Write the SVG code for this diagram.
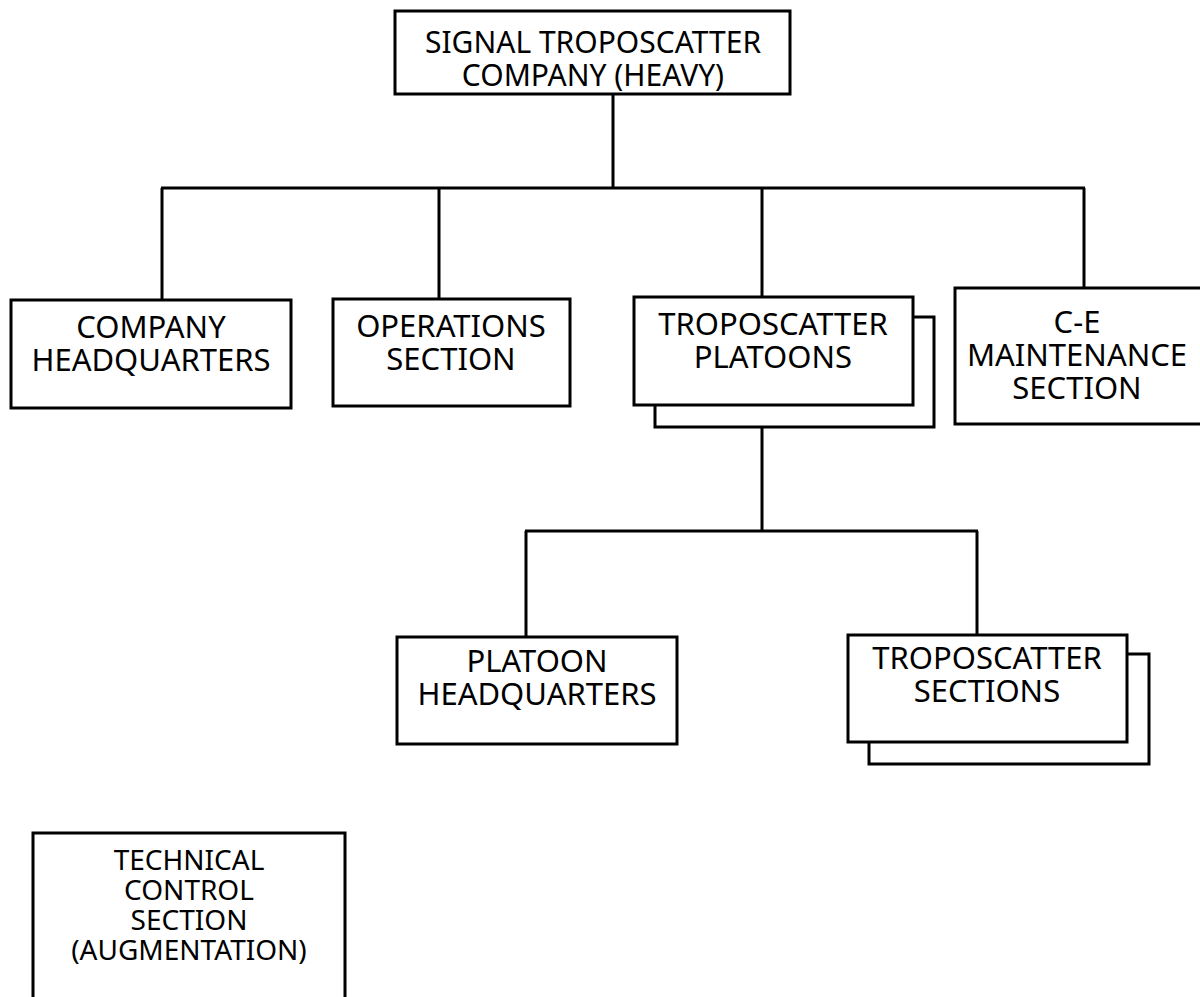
<svg xmlns="http://www.w3.org/2000/svg" width="1200" height="997" viewBox="0 0 1200 997">
<style>
.box{fill:#fff;stroke:#000;stroke-width:3}
.sh{fill:none;stroke:#000;stroke-width:3}
.ln{fill:none;stroke:#000;stroke-width:3}
text{font-family:"Noto Sans","Open Sans",sans-serif;font-size:31px;fill:#000;text-anchor:middle}
.sm{font-size:28px}
.tp{font-size:30px}
</style>
<rect width="1200" height="997" fill="#fff"/>
<g id="connectors">
<line class="ln" x1="613" y1="94" x2="613" y2="188"/>
<line class="ln" x1="161" y1="188" x2="1085" y2="188"/>
<line class="ln" x1="162" y1="188" x2="162" y2="300"/>
<line class="ln" x1="439" y1="188" x2="439" y2="299"/>
<line class="ln" x1="762" y1="188" x2="762" y2="297"/>
<line class="ln" x1="1084" y1="188" x2="1084" y2="288"/>
<line class="ln" x1="762" y1="427" x2="762" y2="531"/>
<line class="ln" x1="525" y1="531" x2="978" y2="531"/>
<line class="ln" x1="526" y1="531" x2="526" y2="637"/>
<line class="ln" x1="977" y1="531" x2="977" y2="635"/>
</g>
<g id="top">
<rect class="box" x="395" y="11" width="395" height="83"/>
<text class="tp" x="593" y="53">SIGNAL TROPOSCATTER</text>
<text class="tp" x="593" y="86">COMPANY (HEAVY)</text>
</g>
<g id="company-hq">
<rect class="box" x="11" y="300" width="280" height="108"/>
<text x="151" y="338">COMPANY</text>
<text x="151" y="371">HEADQUARTERS</text>
</g>
<g id="operations">
<rect class="box" x="333" y="299" width="237" height="107"/>
<text x="451" y="337">OPERATIONS</text>
<text x="451" y="370">SECTION</text>
</g>
<g id="platoons">
<path class="sh" d="M913 317 H934 V427 H655 V405"/>
<rect class="box" x="634" y="297" width="279" height="108"/>
<text x="773" y="335">TROPOSCATTER</text>
<text x="773" y="368">PLATOONS</text>
</g>
<g id="ce-maintenance">
<rect class="box" x="955" y="288" width="262" height="136"/>
<text x="1077" y="333">C-E</text>
<text x="1077" y="366">MAINTENANCE</text>
<text x="1077" y="399">SECTION</text>
</g>
<g id="platoon-hq">
<rect class="box" x="397" y="637" width="280" height="107"/>
<text x="537" y="672">PLATOON</text>
<text x="537" y="705">HEADQUARTERS</text>
</g>
<g id="sections">
<path class="sh" d="M1127 654 H1149 V764 H869 V742"/>
<rect class="box" x="848" y="635" width="279" height="107"/>
<text x="987" y="669">TROPOSCATTER</text>
<text x="987" y="702">SECTIONS</text>
</g>
<g id="technical-control">
<rect class="box" x="33" y="833" width="312" height="180"/>
<text class="sm" x="189" y="870">TECHNICAL</text>
<text class="sm" x="189" y="900">CONTROL</text>
<text class="sm" x="189" y="930">SECTION</text>
<text class="sm" x="189" y="960">(AUGMENTATION)</text>
</g>
</svg>
